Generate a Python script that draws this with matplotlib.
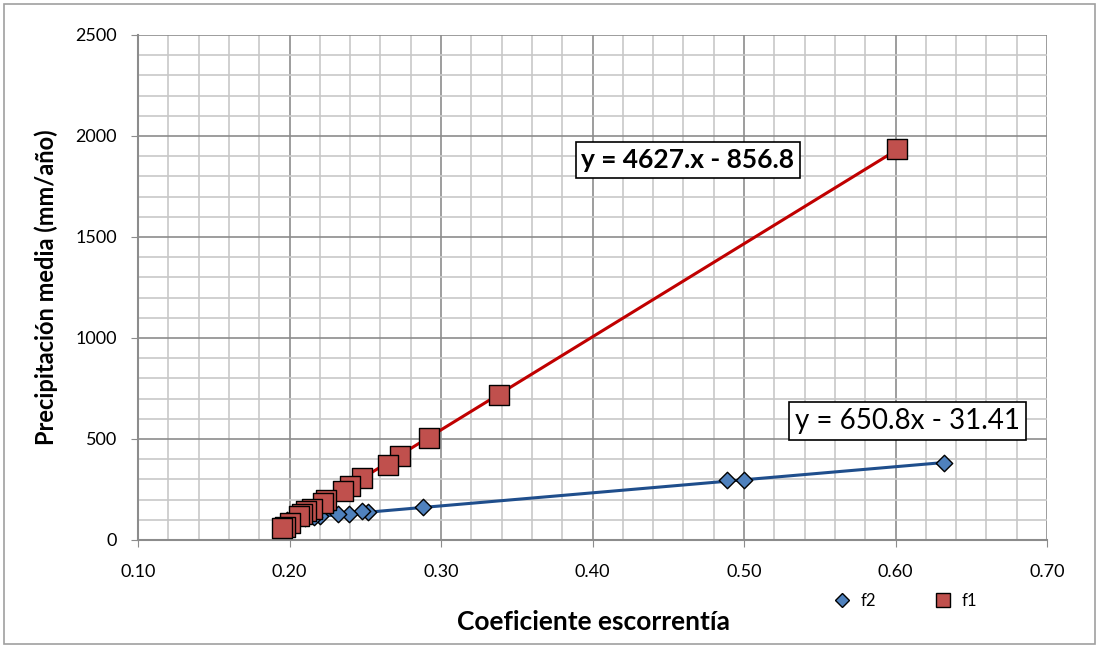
import matplotlib.pyplot as plt
import numpy as np
from matplotlib.lines import Line2D

# f1 series (red squares)
f1_x = [0.601, 0.338, 0.292, 0.273, 0.265, 0.248, 0.240, 0.235, 0.224, 0.222,
        0.215, 0.211, 0.208, 0.206, 0.200, 0.197, 0.195]
f1_y = [1935, 720, 505, 416, 370, 307, 268, 243, 198, 185,
        155, 145, 130, 120, 85, 65, 58]

# f2 series (blue diamonds)
f2_x = [0.632, 0.500, 0.489, 0.288, 0.252, 0.248, 0.239, 0.232, 0.220, 0.216,
        0.210, 0.205, 0.200, 0.198]
f2_y = [380, 296, 296, 163, 139, 142, 129, 129, 117, 114,
        110, 105, 100, 97]

eq_f1 = "y = 4627.x - 856.8"
eq_f2 = "y = 650.8x - 31.41"

plt.rcParams['font.family'] = ['Lato', 'DejaVu Sans']

fig = plt.figure(figsize=(10.99, 6.48), dpi=100)
ax = fig.add_axes([0.1256, 0.1667, 0.8271, 0.7793])

# grid
ax.set_xlim(0.10, 0.70)
ax.set_ylim(0, 2500)
ax.set_xticks(np.arange(0.10, 0.701, 0.10))
ax.set_xticks(np.arange(0.10, 0.701, 0.02), minor=True)
ax.set_yticks(np.arange(0, 2501, 500))
ax.set_yticks(np.arange(0, 2501, 100), minor=True)
ax.grid(which='minor', color='#c8c8c8', linewidth=1.2)
ax.grid(which='major', color='#8c8c8c', linewidth=1.2)
ax.set_axisbelow(True)
ax.set_xticklabels([f"{v:.2f}" for v in np.arange(0.10, 0.701, 0.10)])
ax.tick_params(which='major', length=5, color='#8c8c8c', labelsize=13)
ax.tick_params(axis='x', pad=12)
ax.tick_params(axis='y', pad=10)
ax.tick_params(which='minor', length=0)
for s in ['top', 'right']:
    ax.spines[s].set_visible(False)
for s in ['left', 'bottom']:
    ax.spines[s].set_color('#8c8c8c')
    ax.spines[s].set_linewidth(1.5)

# trend lines
for xs, ys, col in [(f1_x, f1_y, '#C00000'), (f2_x, f2_y, '#1F4E8C')]:
    k, b = np.polyfit(xs, ys, 1)
    xx = np.array([min(xs), max(xs)])
    ax.plot(xx, k * xx + b, color=col, linewidth=2.2, zorder=3)

ax.scatter(f2_x, f2_y, marker='D', s=70, facecolor='#4F81BD', edgecolor='black',
           linewidth=1, zorder=4)
ax.scatter(f1_x, f1_y, marker='s', s=200, facecolor='#C0504D', edgecolor='black',
           linewidth=1, zorder=5)

box = dict(boxstyle='square,pad=0.22', facecolor='white', edgecolor='black', linewidth=1.2)
ax.text(0.463, 1881, eq_f1, fontsize=19, fontweight='bold', ha='center', va='center',
        bbox=box, zorder=6)
ax.text(0.608, 589, eq_f2, fontsize=20, ha='center', va='center', bbox=box, zorder=6)

ax.set_ylabel("Precipitación media (mm/año)", fontsize=17, fontweight='bold', labelpad=14)
ax.yaxis.set_label_coords(-0.088, 0.5)
fig.text(0.54, 0.04, "Coeficiente escorrentía", fontsize=19, fontweight='bold',
         ha='center', va='center')

handles = [Line2D([], [], marker='D', linestyle='none', markerfacecolor='#4F81BD',
                  markeredgecolor='black', markersize=7, label='f2'),
           Line2D([], [], marker='s', linestyle='none', markerfacecolor='#C0504D',
                  markeredgecolor='black', markersize=10, label='f1')]
fig.legend(handles=handles, loc='center', bbox_to_anchor=(0.82, 0.073), ncol=2,
           frameon=False, fontsize=12, handletextpad=0.1, columnspacing=3.0)

# outer border
fig.patches.append(plt.Rectangle((0.004, 0.006), 0.992, 0.988, transform=fig.transFigure,
                                 fill=False, edgecolor='#a0a0a0', linewidth=1.2))

fig.savefig("out.png", dpi=100)
